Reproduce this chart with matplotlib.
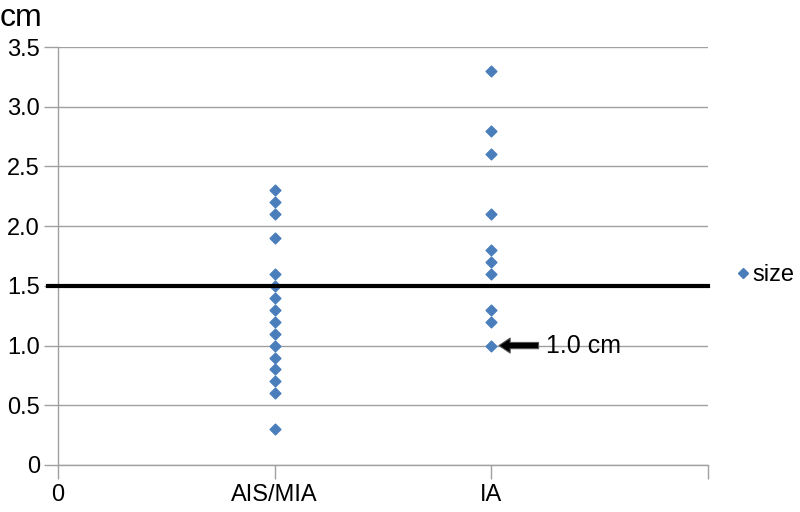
import matplotlib
matplotlib.use("Agg")
import matplotlib.pyplot as plt
from matplotlib.lines import Line2D

plt.rcParams['font.family'] = ['Liberation Sans', 'DejaVu Sans']

# data
ais_mia = [2.3, 2.2, 2.1, 1.9, 1.6, 1.5, 1.4, 1.3, 1.2, 1.1, 1.0, 0.9, 0.8, 0.7, 0.6, 0.3]
ia = [3.3, 2.8, 2.6, 2.1, 1.8, 1.7, 1.6, 1.3, 1.2, 1.0]
x_ticks = [0, 1, 2, 3]
x_labels = ["0", "AIS/MIA", "IA", ""]
y_ticks = [0, 0.5, 1.0, 1.5, 2.0, 2.5, 3.0, 3.5]
y_labels = ["0", "0.5", "1.0", "1.5", "2.0", "2.5", "3.0", "3.5"]
cutoff = 1.5

blue = "#4a7ebb"
grey = "#a0a0a0"

fig = plt.figure(figsize=(8, 5.12), dpi=100)
ax = fig.add_axes([0.0725, 0.0918, 0.8125, 0.8164])

ax.scatter([1] * len(ais_mia), ais_mia, marker="D", s=30, color=blue, zorder=3)
ax.scatter([2] * len(ia), ia, marker="D", s=30, color=blue, zorder=3)

ax.set_xlim(0, 3)
ax.set_ylim(0, 3.5)
ax.set_xticks(x_ticks)
ax.set_xticklabels(x_labels, fontsize=17)
ax.set_yticks(y_ticks)
ax.set_yticklabels(y_labels, fontsize=17)
ax.tick_params(axis="both", direction="out", length=10, width=1, color=grey, pad=3)
ax.tick_params(axis="x", pad=4)

ax.grid(axis="y", color=grey, linewidth=1)
ax.set_axisbelow(True)
for side in ["top", "right"]:
    ax.spines[side].set_visible(False)
for side in ["left", "bottom"]:
    ax.spines[side].set_color(grey)
    ax.spines[side].set_linewidth(1)

# the 1.5 cm cut-off line, runs a bit past the y axis
ax.plot([-0.046, 3], [cutoff, cutoff], color="black", linewidth=3, clip_on=False, zorder=4)

ax.annotate("1.0 cm", xy=(2.035, 1.0), xytext=(2.25, 1.0), fontsize=18,
            va="center", ha="left",
            arrowprops=dict(arrowstyle="simple,head_width=0.6,head_length=0.45,tail_width=0.25",
                            facecolor="black", edgecolor="#555555", linewidth=0.8,
                            shrinkB=0, shrinkA=3))

fig.text(0.0, 0.965, "cm", fontsize=23, ha="left", va="center")

handle = Line2D([], [], marker="D", linestyle="none", color=blue, markersize=5.5)
fig.legend([handle], ["size"], loc="center left", bbox_to_anchor=(0.917, 0.463),
           frameon=False, fontsize=17, handletextpad=0.0, handlelength=0.8,
           borderpad=0, borderaxespad=0)

fig.savefig("out.png", dpi=100)
